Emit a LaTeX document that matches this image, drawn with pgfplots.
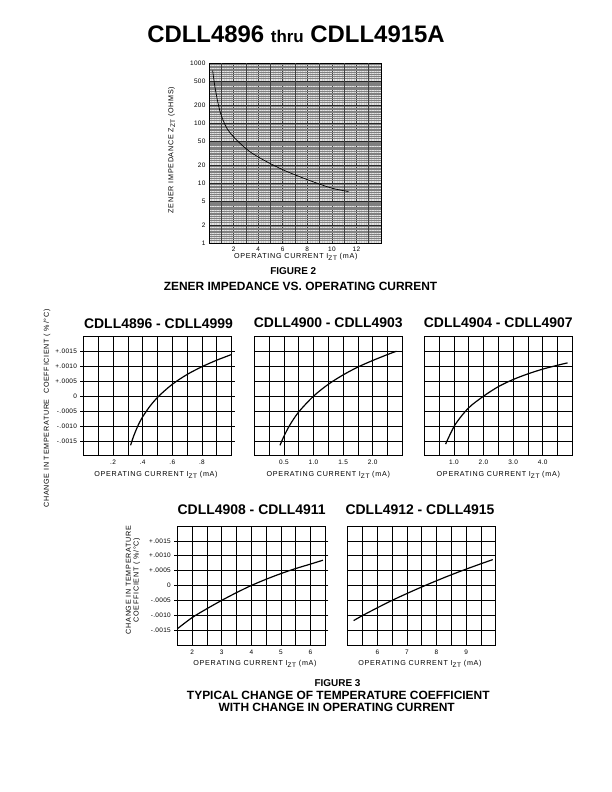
\documentclass[border=0pt]{standalone}
\usepackage{fontspec}
\setmainfont{Liberation Sans}
\newfontfamily\lab[LetterSpace=10]{Liberation Sans}
\newfontfamily\tkf[LetterSpace=5]{Liberation Sans}
\usepackage{pgfplots}
\pgfplotsset{compat=1.18}
\newcommand\sub[1]{\raisebox{-0.5ex}{\fontsize{6.5}{7}\selectfont #1}}
\newcommand\labfont{\lab\fontsize{7.2}{8}\selectfont}
\pgfplotsset{
  tc/.style={anchor=south west, scale only axis, width=148bp, height=119bp,
    ymin=-0.002, ymax=0.002,
    ytick={-0.0015,-0.001,-0.0005,0,0.0005,0.001,0.0015},
    yticklabels={}, scaled y ticks=false, scaled x ticks=false,
    grid=both, major grid style={black, line width=0.5bp},
    minor grid style={black, line width=0.5bp},
    axis line style={black, line width=0.6bp},
    tick label style={font=\tkf\fontsize{6.5}{7}\selectfont},
    major tick length=0pt, minor tick length=0pt,
    xticklabel style={yshift=-1.2bp}},
  tclab/.style={yticklabels={-.0015,-.0010,-.0005,0,+.0005,+.0010,+.0015},
    ytick style={black, line width=0.5bp}, ytick align=outside,
    major tick length=3bp, xtick style={draw=none}},
  crv/.style={black, line width=1.2bp, smooth}
}
\begin{document}
\begin{tikzpicture}
\fill[white] (0,0) rectangle (612bp,792bp);
\path[use as bounding box] (0,0) rectangle (612bp,792bp);

% main title
\node[anchor=base] at (296bp,749.7bp) {\fontsize{24}{28}\selectfont\bfseries CDLL4896 {\fontsize{17}{20}\selectfont thru} CDLL4915A};

% FIGURE 2
\begin{axis}[at={(209bp,549bp)}, anchor=south west, scale only axis, width=172bp, height=180bp,
  ymode=log, xmin=0, xmax=14, ymin=1, ymax=1000,
  axis background/.style={fill=gray!22},
  xtick={2,4,6,8,10,12}, xticklabels={2,4,6,8,10,12},
  extra x ticks={1,3,5,7,9,11,13}, extra x tick labels={},
  extra x tick style={grid=major},
  minor xtick={0.2,0.4,...,13.9},
  ytick={1,2,5,10,20,50,100,200,500,1000},
  yticklabels={1,2,5,10,20,50,100,200,500,1000},
  minor ytick={1.1,1.2,1.3,1.4,1.5,1.6,1.7,1.8,1.9,2.2,2.4,2.6,2.8,3,3.2,3.4,3.6,3.8,4,4.2,4.4,4.6,4.8,5.5,6,6.5,7,7.5,8,8.5,9,9.5,
    11,12,13,14,15,16,17,18,19,22,24,26,28,30,32,34,36,38,40,42,44,46,48,55,60,65,70,75,80,85,90,95,
    110,120,130,140,150,160,170,180,190,220,240,260,280,300,320,340,360,380,400,420,440,460,480,550,600,650,700,750,800,850,900,950},
  grid=both,
  major x grid style={black!75, line width=0.5bp},
  major y grid style={black!85, line width=0.5bp},
  minor x grid style={black!22, line width=0.2bp},
  minor y grid style={black!50, line width=0.25bp},
  major tick length=0pt, minor tick length=0pt,
  axis line style={black, line width=0.5bp},
  tick label style={font=\tkf\fontsize{6.5}{7}\selectfont},
  xticklabel style={yshift=-0.5bp}]
\addplot[black, line width=0.7bp, smooth] coordinates {
(0.3,750) (0.5,380) (0.9,155) (1.45,82) (2.25,52) (3.35,33) (4.7,22.6)
(6.05,16.5) (7.4,12.7) (8.8,9.9) (10.1,8.1) (11.35,7.2)};
\end{axis}
\node[rotate=90] at (171.7bp,642bp) {\labfont ZENER IMPEDANCE Z\sub{ZT} (OHMS)};
\node[anchor=base] at (295.8bp,533bp) {\labfont OPERATING CURRENT I\sub{ZT} (mA)};
\node[anchor=base] at (293.3bp,517bp) {\fontsize{10}{12}\selectfont\bfseries FIGURE 2};
\node[anchor=base] at (300.5bp,501bp) {\fontsize{12}{14}\selectfont\bfseries ZENER IMPEDANCE VS. OPERATING CURRENT};

% FIGURE 3, chart 1
\begin{axis}[tc, tclab, at={(83.5bp,336.3bp)}, xmin=0, xmax=1.0,
  xtick={0.2,0.4,0.6,0.8}, xticklabels={.2,.4,.6,.8},
  minor xtick={0.1,0.3,0.5,0.7,0.9}]
\addplot[crv] coordinates {(0.318,-0.00165) (0.34,-0.001325) (0.37,-0.00097) (0.4,-0.00069)
 (0.45,-0.00033) (0.508,0) (0.6,0.0004) (0.7,0.00073) (0.8,0.00099) (0.9,0.00121) (1.0,0.0014)};
\end{axis}
\node at (158.5bp,468.7bp) {\fontsize{14}{16}\selectfont\bfseries CDLL4896 - CDLL4999};
\node[anchor=base] at (156bp,315.3bp) {\labfont OPERATING CURRENT I\sub{ZT} (mA)};
\node[rotate=90] at (47bp,383.5bp) {\labfont CHANGE IN TEMPERATURE \ COEFFICIENT ( \%/°C)};

% chart 2
\begin{axis}[tc, at={(254.3bp,336.3bp)}, xmin=0, xmax=2.5,
  xtick={0.5,1.0,1.5,2.0}, xticklabels={0.5,1.0,1.5,2.0},
  minor xtick={0.25,0.75,1.25,1.75,2.25}]
\addplot[crv] coordinates {(0.434,-0.00165) (0.5,-0.00135) (0.6,-0.00097) (0.75,-0.00053) (1.0,0)
 (1.25,0.0004) (1.5,0.000715) (1.75,0.00098) (2.0,0.0012) (2.25,0.0014) (2.4,0.00151)};
\end{axis}
\node at (328.3bp,469bp) {\fontsize{14}{16}\selectfont\bfseries CDLL4900 - CDLL4903};
\node[anchor=base] at (328.3bp,315.3bp) {\labfont OPERATING CURRENT I\sub{ZT} (mA)};

% chart 3
\begin{axis}[tc, at={(424.3bp,336.3bp)}, xmin=0, xmax=5,
  xtick={1,2,3,4}, xticklabels={1.0,2.0,3.0,4.0},
  minor xtick={0.5,1.5,2.5,3.5,4.5}]
\addplot[crv] coordinates {(0.72,-0.00161) (1.04,-0.00096) (1.49,-0.0004) (2.0,0)
 (2.5,0.00032) (3.0,0.00056) (3.5,0.00075) (4.0,0.00091) (4.5,0.00104) (4.84,0.00112)};
\end{axis}
\node at (498.3bp,469bp) {\fontsize{14}{16}\selectfont\bfseries CDLL4904 - CDLL4907};
\node[anchor=base] at (498.3bp,315.3bp) {\labfont OPERATING CURRENT I\sub{ZT} (mA)};

% chart 4
\begin{axis}[tc, tclab, at={(177.3bp,147bp)}, xmin=1.5, xmax=6.5,
  xtick={2,3,4,5,6}, xticklabels={2,3,4,5,6},
  minor xtick={2.5,3.5,4.5,5.5}]
\addplot[crv] coordinates {(1.52,-0.00144) (2.0,-0.00108) (2.5,-0.00078) (3.0,-0.0005)
 (3.5,-0.00024) (4.0,0) (4.5,0.00021) (5.0,0.0004) (5.5,0.00057) (6.0,0.00072) (6.42,0.00085)};
\end{axis}
\node at (251.7bp,282bp) {\fontsize{14}{16}\selectfont\bfseries CDLL4908 - CDLL4911};
\node[anchor=base] at (255bp,126bp) {\labfont OPERATING CURRENT I\sub{ZT} (mA)};
\node[rotate=90] at (128.3bp,212bp) {\labfont CHANGE IN TEMPERATURE};
\node[rotate=90] at (136.7bp,212bp) {\labfont COEFFICIENT ( \%/°C)};

% chart 5
\begin{axis}[tc, at={(347.7bp,147bp)}, xmin=5, xmax=10,
  xtick={6,7,8,9}, xticklabels={6,7,8,9},
  minor xtick={5.5,6.5,7.5,8.5,9.5}]
\addplot[crv] coordinates {(5.2,-0.00118) (5.5,-0.00101) (6.0,-0.00075) (6.5,-0.0005)
 (7.0,-0.00027) (7.5,-0.00005) (8.0,0.00016) (8.5,0.00036) (9.0,0.00055) (9.5,0.00073) (9.9,0.00087)};
\end{axis}
\node at (420bp,282bp) {\fontsize{14}{16}\selectfont\bfseries CDLL4912 - CDLL4915};
\node[anchor=base] at (420bp,126bp) {\labfont OPERATING CURRENT I\sub{ZT} (mA)};

% captions
\node[anchor=base] at (337.5bp,105.3bp) {\fontsize{10}{12}\selectfont\bfseries FIGURE 3};
\node[anchor=base] at (338.3bp,92bp) {\fontsize{12}{14}\selectfont\bfseries TYPICAL CHANGE OF TEMPERATURE COEFFICIENT};
\node[anchor=base] at (336.7bp,80.3bp) {\fontsize{12}{14}\selectfont\bfseries WITH CHANGE IN OPERATING CURRENT};
\end{tikzpicture}
\end{document}
